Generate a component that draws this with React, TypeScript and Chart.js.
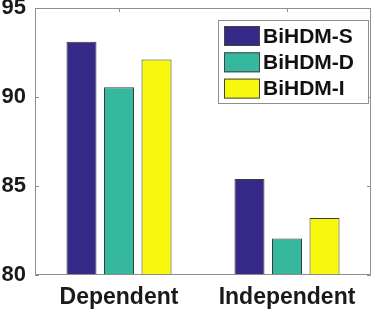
import React, { useEffect, useRef } from "react";
import { Chart, registerables } from "chart.js";

Chart.register(...registerables);

const categories = ["Dependent", "Independent"];
const seriesNames = ["BiHDM-S", "BiHDM-D", "BiHDM-I"];
const seriesS = [93.1, 85.4];
const seriesD = [90.55, 82.05];
const seriesI = [92.1, 83.2];
const yTicks = [80, 85, 90, 95];
const colors = ["#352a87", "#36b89e", "#f7f80e"];

const FONT = "'Liberation Sans', Arial, Helvetica, sans-serif";
const AXIS_COLOR = "#8e8e8e";

const framePlugin = {
  id: "matlabFrame",
  afterDraw(chart: any) {
    const { ctx, chartArea } = chart;
    const { left, right, top, bottom } = chartArea;
    const xs = chart.scales.x;
    const ys = chart.scales.y;
    ctx.save();
    ctx.strokeStyle = AXIS_COLOR;
    ctx.lineWidth = 1;
    ctx.beginPath();
    ctx.rect(left + 0.5, top + 0.5, right - left - 1, bottom - top - 1);
    const tl = 4;
    yTicks.forEach((v) => {
      const y = Math.round(ys.getPixelForValue(v)) + 0.5;
      ctx.moveTo(left, y);
      ctx.lineTo(left + tl, y);
      ctx.moveTo(right, y);
      ctx.lineTo(right - tl, y);
    });
    categories.forEach((_, i) => {
      const x = Math.round(xs.getPixelForValue(i)) + 0.5;
      ctx.moveTo(x, top);
      ctx.lineTo(x, top + tl);
      ctx.moveTo(x, bottom);
      ctx.lineTo(x, bottom - tl);
    });
    ctx.stroke();

    // legend inside the plot area, top right
    const ds = chart.data.datasets;
    const boxW = 151;
    const boxH = 84;
    const bx = right - 2 - boxW;
    const by = top + 12;
    ctx.fillStyle = "#ffffff";
    ctx.fillRect(bx, by, boxW, boxH);
    ctx.strokeStyle = AXIS_COLOR;
    ctx.strokeRect(bx + 0.5, by + 0.5, boxW - 1, boxH - 1);
    ctx.font = `bold 21px ${FONT}`;
    ctx.textBaseline = "middle";
    ctx.textAlign = "left";
    ds.forEach((d: any, i: number) => {
      const sy = by + 6 + i * 26.3;
      ctx.fillStyle = d.backgroundColor;
      ctx.fillRect(bx + 6, sy, 36, 20);
      ctx.strokeStyle = "#444";
      ctx.strokeRect(bx + 6.5, sy + 0.5, 35, 19);
      ctx.fillStyle = "#111";
      ctx.fillText(d.label, bx + 45, sy + 11);
    });
    ctx.restore();
  },
};

export default function App() {
  const ref = useRef<HTMLCanvasElement>(null);
  useEffect(() => {
    document.body.style.margin = "0";
    const chart = new Chart(ref.current!, {
      type: "bar",
      data: {
        labels: categories,
        datasets: [seriesS, seriesD, seriesI].map((vals, i) => ({
          label: seriesNames[i],
          data: vals,
          backgroundColor: colors[i],
          borderColor: "#3a3a3a",
          borderWidth: 1,
          borderSkipped: false,
          categoryPercentage: 0.67,
          barPercentage: 0.8,
        })),
      },
      options: {
        animation: false,
        responsive: false,
        layout: { padding: { top: 8, right: 3, left: 0, bottom: 0 } },
        plugins: { legend: { display: false }, tooltip: { enabled: false } },
        scales: {
          x: {
            grid: { display: false, drawTicks: false },
            border: { display: false },
            ticks: {
              color: "#1a1a1a",
              font: { family: FONT, size: 23, weight: "bold" },
              padding: 9,
              maxRotation: 0,
            },
            afterFit: (s: any) => {
              s.height = 36;
              s.paddingLeft = 0;
              s.paddingRight = 0;
            },
          },
          y: {
            min: 80,
            max: 95,
            grid: { display: false, drawTicks: false },
            border: { display: false },
            afterBuildTicks: (s: any) => {
              s.ticks = yTicks.map((v) => ({ value: v }));
            },
            ticks: {
              color: "#1a1a1a",
              font: { family: FONT, size: 22, weight: "bold" },
              padding: 9,
            },
            afterFit: (s: any) => {
              s.width = 35;
              s.paddingTop = 0;
              s.paddingBottom = 0;
            },
          },
        },
      },
      plugins: [framePlugin],
    });
    return () => chart.destroy();
  }, []);
  return (
    <div style={{ position: "absolute", left: 0, top: 0, width: 374, height: 311 }}>
      <canvas ref={ref} width={374} height={311} />
    </div>
  );
}
